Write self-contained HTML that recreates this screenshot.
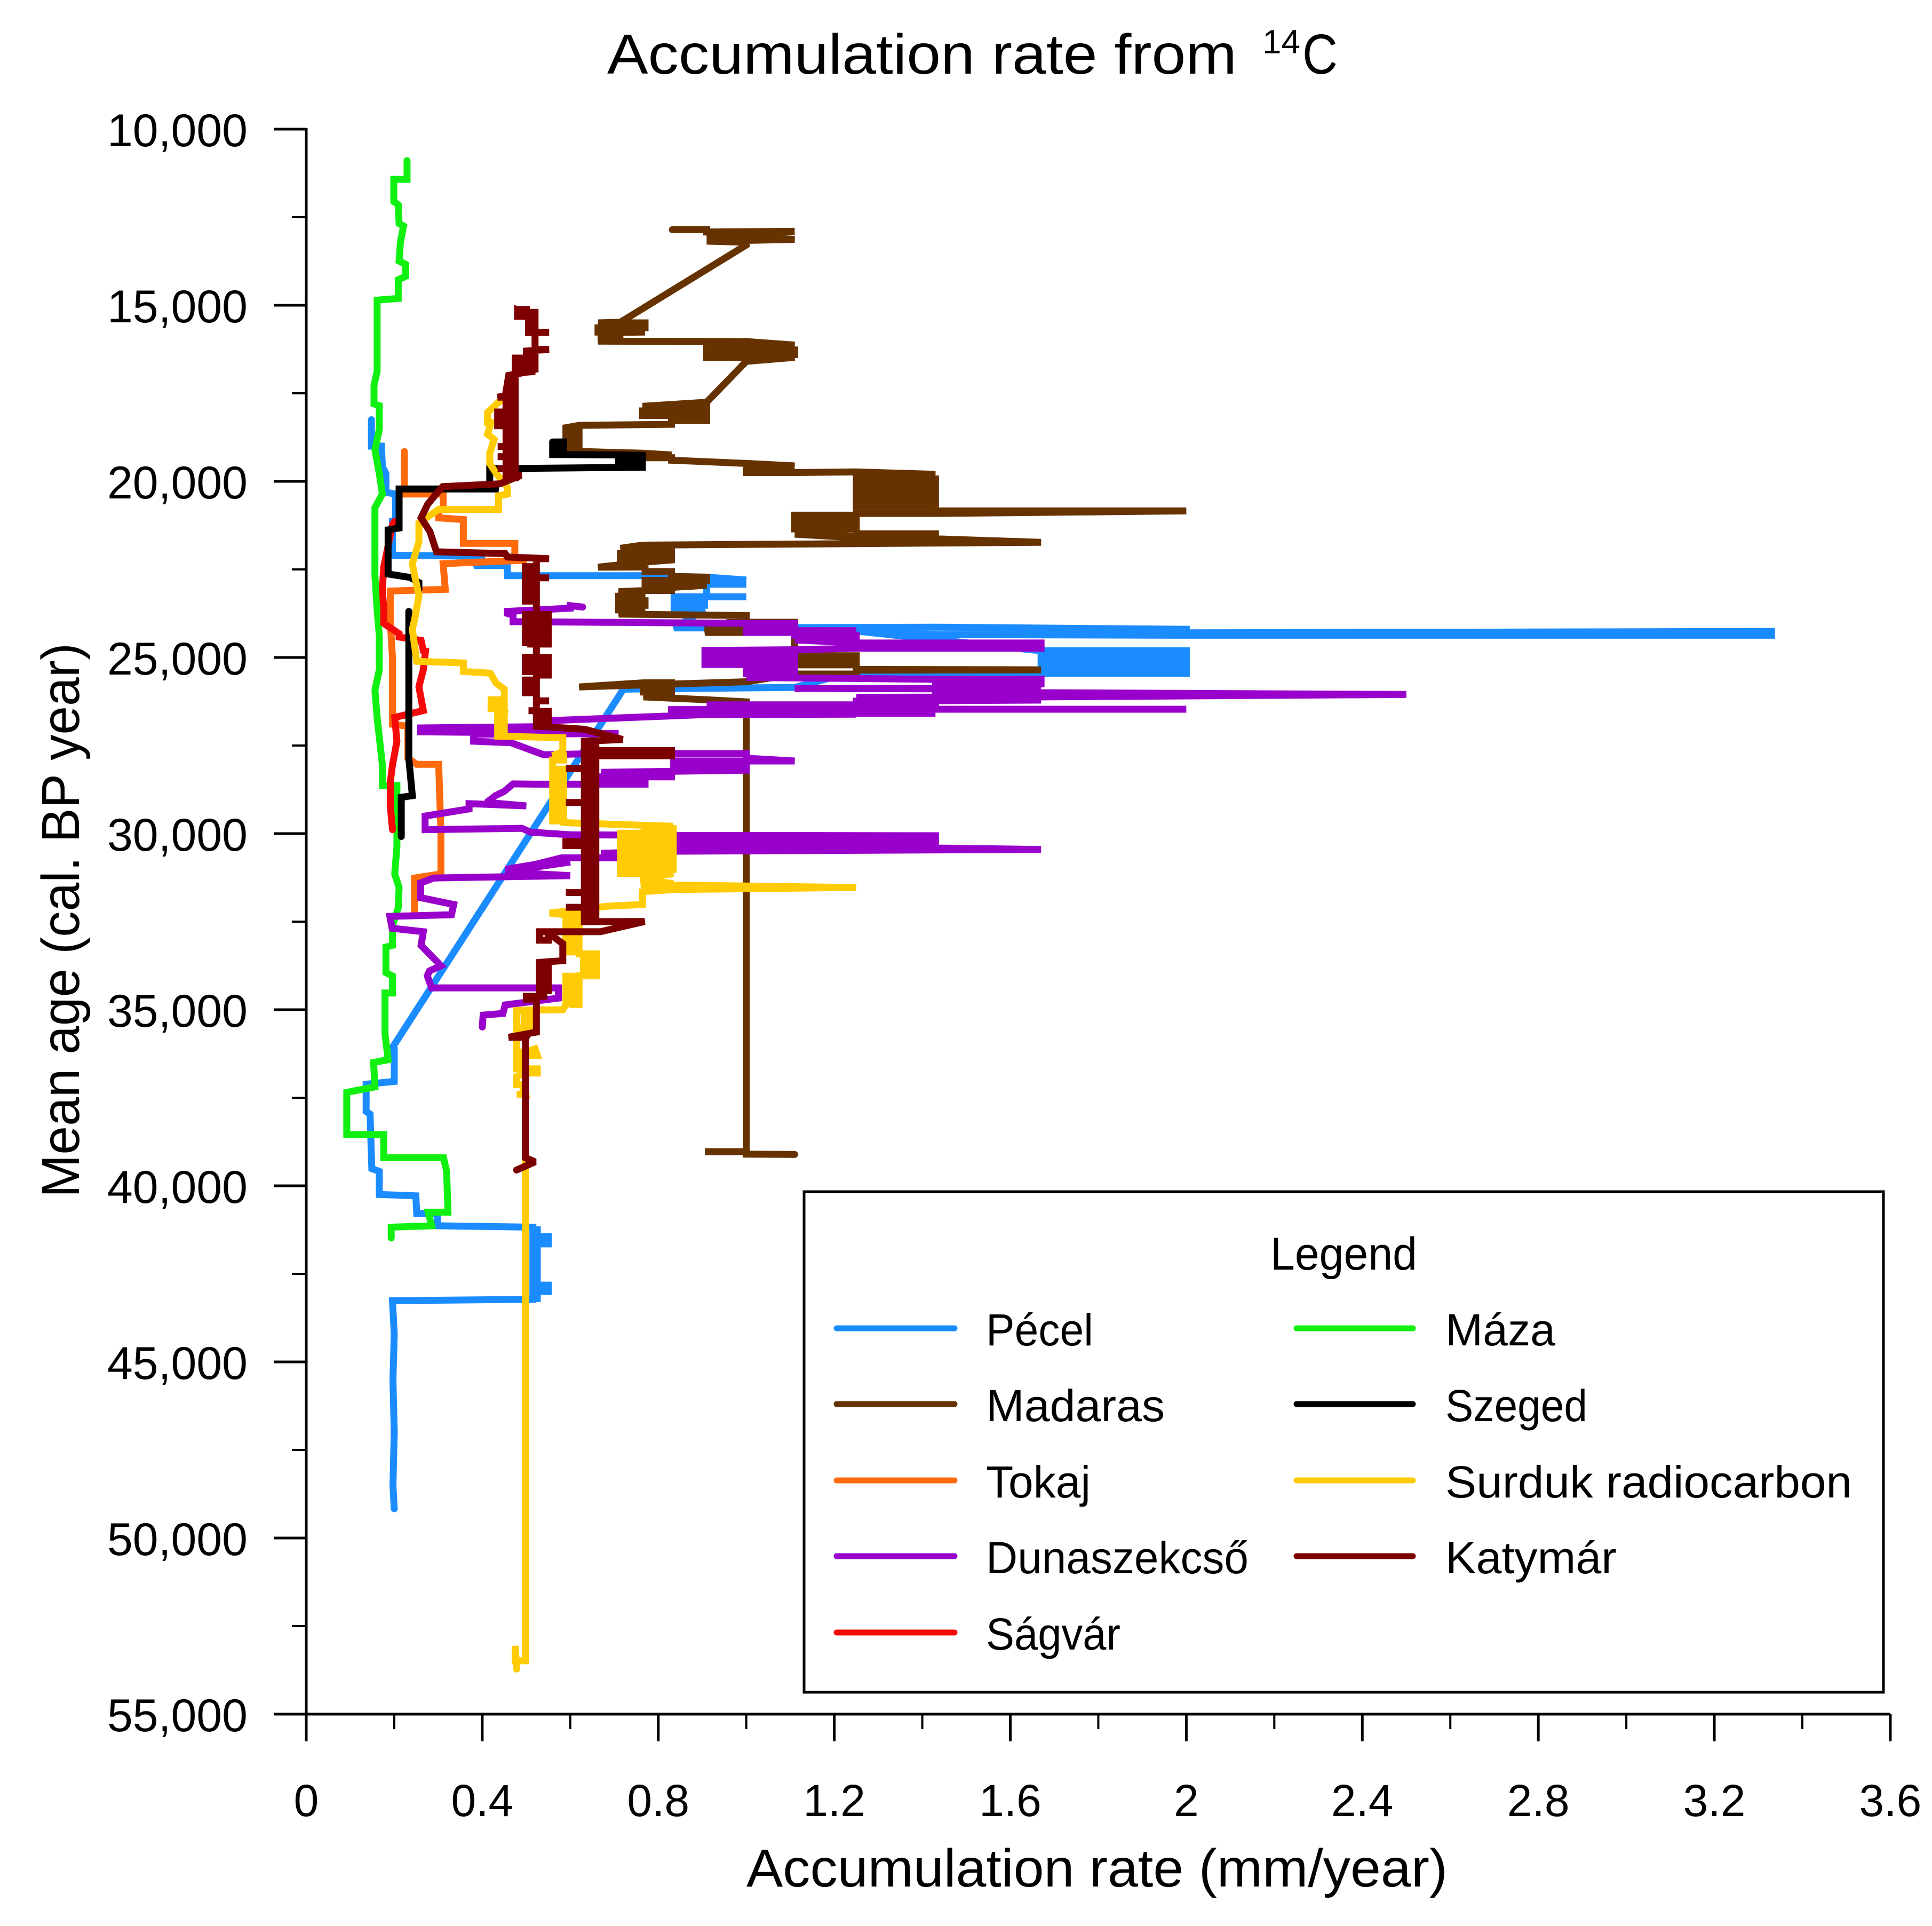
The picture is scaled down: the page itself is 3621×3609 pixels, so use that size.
<!DOCTYPE html>
<html lang="en">
<head>
<meta charset="utf-8">
<title>Accumulation rate from 14C</title>
<style>
html,body{margin:0;padding:0;background:#fff;}
svg{display:block;}
text{font-family:"Liberation Sans",sans-serif;fill:#000;}
</style>
</head>
<body>
<svg id="chart" xmlns="http://www.w3.org/2000/svg" width="3621" height="3609" viewBox="0 0 3621 3609">
<rect x="0" y="0" width="3621" height="3609" fill="#fff"/>
<g id="series"></g>
<g id="axes"></g>
<text x="1138" y="138" font-size="106" textLength="1180" lengthAdjust="spacingAndGlyphs">Accumulation rate from</text>
<text x="2366" y="100" font-size="63" textLength="71" lengthAdjust="spacingAndGlyphs">14</text>
<text x="2441" y="138" font-size="106" textLength="66" lengthAdjust="spacingAndGlyphs">C</text>
<text x="1399" y="3535" font-size="100" textLength="1314" lengthAdjust="spacingAndGlyphs">Accumulation rate (mm/year)</text>
<text transform="translate(148,2244) rotate(-90)" x="0" y="0" font-size="100" textLength="1039" lengthAdjust="spacingAndGlyphs">Mean age (cal. BP year)</text>
<g id="legend">
<rect x="1507" y="2233" width="2023" height="938" fill="#fff" stroke="#000" stroke-width="5"/>
<text x="2381" y="2379" font-size="86" textLength="275" lengthAdjust="spacingAndGlyphs">Legend</text>
</g>
</svg>
<script>
var xTickLabels = ["0","0.4","0.8","1.2","1.6","2","2.4","2.8","3.2","3.6"];
var xTickValues = [0,0.4,0.8,1.2,1.6,2,2.4,2.8,3.2,3.6];
var xMinorValues = [0.2,0.6,1,1.4,1.8,2.2,2.6,3,3.4];
var yTickLabels = ["10,000","15,000","20,000","25,000","30,000","35,000","40,000","45,000","50,000","55,000"];
var yTickValues = [10000,15000,20000,25000,30000,35000,40000,45000,50000,55000];
var yMinorValues = [12500,17500,22500,27500,32500,37500,42500,47500,52500];

/* each series: [accumulation rate mm/yr, mean age yr BP] */
var pecel = [[.148,18250],[.148,19000],[.171,19000],[.173,19588],[.181,19781],[.181,20312],[.203,20361],[.203,21134],[.196,21134],[.196,22000],[.2,22099],[.402,22128],[.382,22390],[.457,22390],[.457,22679],[.764,22679],[.91,22720],[1,22800],[.91,22800],[.91,22920],[1,22920],[.91,22920],[.91,23278],[1,23278],[.836,23278],[.836,23400],[.905,23400],[.905,23520],[.836,23520],[.836,23650],[.905,23650],[.836,24160],[.905,24160],[1.43,24140],[2,24200],[2,24300],[3.33,24260],[3.33,24370],[2,24370],[1.43,24350],[1.25,24250],[1.67,24810],[2,24810],[2,24940],[1.67,24940],[1.67,25070],[2,25070],[2,25200],[1.67,25200],[1.67,25330],[2,25330],[2,25450],[1.67,25450],[1.43,25460],[1.2,25550],[1.11,25850],[.72,25900],[.714,26030],[.196,36072],[.2,36111],[.2,37038],[.136,37116],[.136,37889],[.145,37965],[.147,38739],[.149,39512],[.166,39589],[.166,40246],[.249,40285],[.251,40787],[.298,40787],[.298,41135],[.51,41174],[.515,41174],[.515,43200],[.525,43200],[.525,42820],[.55,42820],[.55,43000],[.535,43000],[.535,42820],[.525,42820],[.525,41650],[.55,41650],[.55,41440],[.535,41440],[.535,41650],[.525,41650],[.525,41250],[.515,41250],[.515,43222],[.196,43261],[.2,44212],[.197,45500],[.2,47000],[.197,48500],[.2,49170]];
var maza = [[.229,10894],[.229,11425],[.199,11425],[.199,12053],[.209,12150],[.211,12680],[.221,12750],[.214,13212],[.211,13744],[.226,13840],[.226,14178],[.209,14275],[.209,14806],[.161,14854],[.161,16883],[.154,17270],[.154,17800],[.166,17850],[.166,18525],[.156,19105],[.166,19781],[.173,20360],[.156,20747],[.156,22679],[.161,23645],[.166,24383],[.166,25349],[.156,25929],[.161,26701],[.173,28054],[.173,28633],[.206,28633],[.206,29213],[.206,30372],[.201,31145],[.211,31531],[.209,32111],[.196,32594],[.196,33174],[.181,33222],[.181,33947],[.196,34043],[.196,34526],[.179,34526],[.179,35685],[.186,36420],[.153,36497],[.156,37193],[.092,37347],[.092,38546],[.176,38546],[.176,39203],[.312,39203],[.319,39589],[.322,40749],[.277,40749],[.285,41135],[.193,41174],[.193,41483]];
var madaras = [[.832,12855],[.91,12855],[.91,12920],[1.11,12900],[.91,12950],[1,12950],[.91,13040],[1,13040],[1.11,13130],[.91,13180],[1,13210],[1,13290],[.714,15482],[.663,15500],[.77,15500],[.77,15640],[.663,15640],[.663,15760],[.77,15760],[.715,15770],[.663,15900],[.72,15900],[.663,16020],[1,16030],[1.11,16130],[.91,16130],[.91,16270],[1.11,16270],[1.11,16400],[.91,16400],[.91,16480],[1.11,16480],[1,16593],[.91,17753],[.764,17870],[.91,17870],[.91,18000],[.764,18000],[.764,18130],[.91,18130],[.91,18270],[.83,18270],[.83,18380],[.62,18410],[.59,18477],[.59,19100],[.605,19100],[.605,18500],[.62,18500],[.62,19150],[.764,19202],[.83,19250],[.77,19330],[.83,19330],[.83,19400],[1,19491],[1.11,19560],[1,19560],[1,19750],[1.11,19750],[1.25,19732],[1.43,19800],[1.25,19800],[1.25,19930],[1.43,19930],[1.43,20060],[1.25,20060],[1.25,20190],[1.43,20190],[1.43,20320],[1.25,20320],[1.25,20450],[1.43,20450],[1.43,20580],[1.25,20580],[1.25,20710],[1.43,20710],[1.43,20840],[2,20840],[1.43,20910],[1.25,20910],[1.25,20960],[1.11,20960],[1.11,21090],[1.25,21090],[1.25,21220],[1.11,21220],[1.11,21350],[1.25,21350],[1.25,21490],[1.43,21490],[1.43,21600],[1.25,21600],[1.11,21500],[1.67,21730],[.764,21810],[.714,21900],[.83,21920],[.83,22050],[.714,22050],[.714,22180],[.83,22180],[.83,22230],[.77,22290],[.663,22437],[.77,22430],[.77,22560],[.83,22560],[.83,22700],[.91,22720],[.91,22810],[.77,22810],[.77,22950],[.91,22950],[.83,23010],[.83,23100],[.77,23100],[.71,23130],[.77,23260],[.71,23260],[.71,23390],[.77,23390],[.77,23520],[.71,23520],[.71,23650],[.77,23650],[.71,23770],[1,23810],[1,23880],[.906,24170],[1,24170],[1,24290],[.906,24290],[1,24000],[1.11,24000],[1.11,24950],[1.25,24950],[1.25,25080],[1.11,25080],[1.11,25210],[1.25,25210],[1.25,25340],[1.67,25350],[1.25,25360],[1.25,25470],[1.11,25470],[1,25690],[.62,25837],[.766,25720],[.83,25720],[.83,25850],[.766,25850],[.766,25980],[.83,25980],[.83,26120],[.766,26120],[.91,26200],[1,26260],[1,39030],[.906,39030],[1,39030],[1,39100],[1.11,39110]];
var tokaj = [[.223,19153],[.223,20168],[.211,20361],[.311,20361],[.311,20795],[.301,20830],[.301,21037],[.357,21085],[.357,21761],[.474,21761],[.474,22148],[.5,22240],[.377,22300],[.311,22340],[.316,23065],[.191,23114],[.191,24000],[.196,25000],[.196,26895],[.231,26950],[.231,27860],[.251,28035],[.301,28035],[.306,30000],[.306,31145],[.246,31262],[.246,32208]];
var dunaszekcso = [[.628,23568],[.6,23530],[.6,23600],[.457,23693],[.457,23750],[.47,23800],[.47,23983],[1,24030],[1.11,24030],[1.11,24150],[1,24150],[1,24290],[1.11,24290],[1.25,24240],[1.11,24240],[1.11,24370],[1.25,24370],[1.25,24500],[1.11,24500],[1.25,24590],[1.67,24590],[1.67,24740],[1.25,24740],[1.11,24780],[.906,24800],[.906,24930],[1.11,24930],[1.11,25060],[.906,25060],[.906,25200],[1.11,25200],[1.11,25330],[1,25330],[1,25450],[1.11,25450],[1.11,25570],[1,25570],[1.11,25580],[1.43,25620],[1.67,25620],[1.67,25750],[1.43,25750],[1.43,25880],[1.67,25880],[1.11,25880],[1.43,25890],[1.43,26000],[1.67,26000],[2.5,26050],[1.67,26120],[1.25,26130],[1.43,26130],[1.67,26210],[1.25,26240],[1.25,26350],[1.43,26350],[1.43,26470],[2,26470],[1.25,26470],[1.25,26590],[1.43,26590],[1.25,26590],[.91,26345],[1.25,26345],[1.25,26470],[.83,26480],[.83,26620],[1.25,26610],[.91,26620],[.56,26790],[.56,26800],[.56,26960],[.26,27000],[.26,27110],[.71,27160],[.38,27180],[.38,27378],[.465,27420],[.54,27764],[.75,27700],[.835,27730],[1,27730],[1,27860],[1.11,27940],[.835,27940],[.835,28060],[1,28060],[1,28200],[.67,28260],[.83,28260],[.83,28390],[.67,28390],[.67,28520],[.77,28520],[.77,28597],[.52,28597],[.47,28590],[.45,28800],[.43,28923],[.41,29116],[.5,29213],[.37,29150],[.37,29300],[.27,29503],[.27,29889],[.49,29850],[.51,29960],[.6,30034],[.83,30050],[1.43,30060],[1.43,30180],[.83,30180],[.83,30310],[1.43,30310],[1.43,30410],[1.67,30450],[.83,30500],[.67,30560],[.77,30690],[.58,30690],[.52,30877],[.46,31000],[.46,31060],[.6,30808],[.46,31020],[.46,31100],[.6,31194],[.29,31260],[.26,31400],[.26,31820],[.335,32014],[.33,32303],[.19,32352],[.195,32690],[.266,32787],[.261,33174],[.306,33753],[.28,33900],[.275,34040],[.285,34381],[.573,34381],[.573,34671],[.452,34864],[.447,35106],[.402,35154],[.4,35492]];
var sagvar = [[.201,21134],[.196,21230],[.176,22437],[.173,23065],[.176,23597],[.176,24031],[.211,24322],[.211,24420],[.261,24515],[.266,24804],[.271,24818],[.266,25349],[.256,25832],[.266,26508],[.201,26701],[.206,27378],[.196,28054],[.191,28537],[.191,29213],[.196,29889]];
var szeged = [[.56,18880],[.56,19240],[.572,19240],[.572,18880],[.585,18880],[.585,19240],[.714,19250],[.764,19260],[.764,19340],[.71,19340],[.71,19470],[.764,19470],[.764,19600],[.462,19636],[.417,19636],[.417,20168],[.437,20216],[.211,20216],[.211,21326],[.186,21375],[.186,22630],[.236,22727],[.256,22870],[.256,23065]];
var szeged2 = [[.233,23693],[.233,27860],[.241,28923],[.216,28971],[.216,30083]];
var surduk = [[.472,17559],[.437,17750],[.412,18043],[.412,18332],[.42,18332],[.412,18660],[.427,18810],[.417,19200],[.417,19491],[.432,19781],[.457,20168],[.457,20361],[.437,20410],[.437,20795],[.301,20795],[.256,21182],[.256,21713],[.241,22341],[.256,23259],[.246,23935],[.241,24200],[.251,25107],[.357,25156],[.357,25397],[.418,25446],[.432,25735],[.45,25900],[.45,26450],[.42,26450],[.42,26200],[.435,26200],[.435,26500],[.45,26500],[.45,27233],[.435,27233],[.435,26600],[.45,26600],[.437,27233],[.583,27281],[.583,27670],[.56,27790],[.585,27790],[.585,27910],[.56,27910],[.56,28170],[.56,29640],[.572,29640],[.572,28170],[.585,28170],[.585,29680],[.6,29696],[.834,29793],[.76,29860],[.834,29860],[.834,29990],[.714,29990],[.714,30120],[.834,30120],[.834,30250],[.714,30250],[.714,30380],[.834,30380],[.834,30510],[.714,30510],[.714,30640],[.834,30640],[.834,30770],[.714,30770],[.714,30900],[.834,30900],[.834,31020],[.714,31020],[.714,31130],[.834,31130],[.76,31310],[.834,31420],[.76,31450],[1.25,31531],[.834,31590],[.764,31650],[.764,32014],[.683,32063],[.553,32256],[.59,32304],[.59,33360],[.605,33360],[.605,32304],[.62,32304],[.62,33415],[.63,33415],[.63,34040],[.645,34040],[.645,33415],[.66,33415],[.66,34040],[.62,34040],[.62,34850],[.605,34850],[.605,34050],[.59,34050],[.59,34860],[.583,35000],[.51,35009],[.478,35020],[.478,35520],[.495,35520],[.495,35020],[.51,35020],[.51,35520],[.478,35550],[.478,36200],[.478,36680],[.49,36680],[.49,36200],[.498,36200],[.52,36110],[.525,36300],[.498,36300],[.498,36680],[.525,36680],[.525,36800],[.498,36800],[.478,36900],[.478,37130],[.49,37130],[.498,37400],[.478,37400],[.498,37400],[.498,53485],[.475,53485],[.475,53060],[.478,53720]];
var katymar = [[.48,15120],[.5,15120],[.5,15310],[.48,15310],[.48,15120],[.505,15200],[.52,15200],[.52,15772],[.552,15772],[.505,15772],[.505,15300],[.52,15400],[.52,16255],[.552,16255],[.5,16300],[.5,16810],[.52,16810],[.52,16300],[.51,16300],[.51,16810],[.475,16780],[.475,16500],[.49,16500],[.49,16780],[.52,16880],[.5,16900],[.46,16990],[.454,17450],[.475,17450],[.475,16990],[.465,17000],[.465,17540],[.435,17610],[.475,17610],[.475,19900],[.465,19900],[.465,17700],[.454,17700],[.454,18030],[.435,18030],[.435,18420],[.445,18420],[.445,18030],[.454,18030],[.454,19010],[.435,19010],[.454,19010],[.454,19300],[.435,19300],[.454,19300],[.454,19640],[.435,19640],[.454,19640],[.454,19820],[.477,19800],[.488,19830],[.44,20070],[.31,20150],[.295,20360],[.276,20650],[.261,21037],[.281,21423],[.296,22000],[.452,22050],[.457,22148],[.552,22196],[.523,22196],[.523,26950],[.536,26950],[.536,26530],[.55,26530],[.55,26950],[.523,26950],[.523,26510],[.505,26510],[.523,26510],[.523,26230],[.552,26230],[.523,26230],[.523,26000],[.51,26000],[.51,25640],[.498,25640],[.498,26000],[.523,26000],[.523,25500],[.536,25500],[.536,25000],[.55,25000],[.55,25500],[.523,25500],[.523,25400],[.51,25400],[.51,25000],[.498,25000],[.498,25400],[.523,25400],[.523,24620],[.51,24620],[.51,23780],[.498,23780],[.498,24580],[.523,24620],[.536,24620],[.536,23780],[.55,23780],[.55,24620],[.523,24620],[.523,23400],[.51,23400],[.51,22420],[.498,22420],[.498,23400],[.523,23400],[.523,22740],[.552,22740],[.523,22740],[.523,26950],[.633,27040],[.719,27329],[.632,27378],[.632,32500],[.645,32500],[.645,27450],[.658,27450],[.658,32500],[.658,27640],[.83,27640],[.83,27790],[.658,27790],[.64,27790],[.64,28150],[.59,28150],[.64,28150],[.64,29116],[.59,29116],[.64,29116],[.64,30227],[.59,30227],[.59,30340],[.64,30340],[.64,31676],[.59,31676],[.64,31676],[.64,32092],[.59,32092],[.64,32092],[.64,32500],[.769,32497],[.668,32787],[.53,32787],[.53,33028],[.55,33028],[.55,32820],[.583,33125],[.583,33608],[.53,33657],[.53,34450],[.55,34450],[.55,33720],[.54,33720],[.54,34620],[.5,34620],[.5,34700],[.523,34700],[.523,35637],[.46,35782],[.5,35780],[.498,35850],[.498,39203],[.52,39319],[.478,39551]];

var seriesOrder = ["Pécel","Máza","Madaras","Tokaj","Dunaszekcső","Ságvár","Szeged","Surduk radiocarbon","Katymár"];
var seriesColors = {"Pécel":"#1a8cff","Máza":"#11f011","Madaras":"#663300","Tokaj":"#ff6a0d","Dunaszekcső":"#9900cc","Ságvár":"#f50a0a","Szeged":"#000000","Surduk radiocarbon":"#ffcb05","Katymár":"#7d0000"};
var seriesPoints = {"Pécel":[pecel],"Máza":[maza],"Madaras":[madaras],"Tokaj":[tokaj],"Dunaszekcső":[dunaszekcso],"Ságvár":[sagvar],"Szeged":[szeged,szeged2],"Surduk radiocarbon":[surduk],"Katymár":[katymar]};
var legendLeft = ["Pécel","Madaras","Tokaj","Dunaszekcső","Ságvár"];
var legendRight = ["Máza","Szeged","Surduk radiocarbon","Katymár"];

var NS = "http://www.w3.org/2000/svg";
function xScale(v){ return 574 + v * 824.7; }
function yScale(v){ return 242 + (v - 10000) * 0.066; }
function make(tag, attrs, parent, txt){
  var e = document.createElementNS(NS, tag);
  for (var k in attrs) e.setAttribute(k, attrs[k]);
  if (txt !== undefined) e.textContent = txt;
  parent.appendChild(e);
  return e;
}
function slug(s){
  return s.toLowerCase().normalize("NFD").replace(/[^a-z ]/g, "").replace(/ /g, "-");
}

var seriesLayer = document.getElementById("series");
seriesOrder.forEach(function(name){
  seriesPoints[name].forEach(function(pts, i){
    var d = pts.map(function(p){ return xScale(p[0]).toFixed(1) + "," + yScale(p[1]).toFixed(1); }).join(" ");
    var line = make("polyline", {points: d, fill: "none", stroke: seriesColors[name], "stroke-width": 13, "stroke-linejoin": "miter", "stroke-miterlimit": 2, "stroke-linecap": "round"}, seriesLayer);
    
    
  });
});

var axes = document.getElementById("axes");
var xAxisLine = make("line", {x1: 513, x2: xScale(3.6), y1: yScale(55000), y2: yScale(55000), stroke: "#000", "stroke-width": 5}, axes);


var yAxisLine = make("line", {x1: xScale(0), x2: xScale(0), y1: yScale(10000) - 2, y2: 3263, stroke: "#000", "stroke-width": 5}, axes);



xTickValues.forEach(function(v, i){
  var t = make("line", {x1: xScale(v), x2: xScale(v), y1: yScale(55000), y2: 3263, stroke: "#000", "stroke-width": 5}, axes);
  
  
  var l = make("text", {x: xScale(v), y: 3403, "font-size": 84, "text-anchor": "middle"}, axes, xTickLabels[i]);
  
  
});
xMinorValues.forEach(function(v){
  var t = make("line", {x1: xScale(v), x2: xScale(v), y1: yScale(55000), y2: 3240, stroke: "#000", "stroke-width": 4}, axes);
  
  
});
yTickValues.forEach(function(v, i){
  var t = make("line", {x1: 513, x2: xScale(0), y1: yScale(v), y2: yScale(v), stroke: "#000", "stroke-width": 5}, axes);
  
  
  var l = make("text", {x: 464, y: yScale(v) + 32, "font-size": 86, "text-anchor": "end"}, axes, yTickLabels[i]);
  
  
});
yMinorValues.forEach(function(v){
  var t = make("line", {x1: 547, x2: xScale(0), y1: yScale(v), y2: yScale(v), stroke: "#000", "stroke-width": 4}, axes);
  
  
});

var legend = document.getElementById("legend");
var rowY = [2489,2631,2774,2916,3059];
var textLens = {"Pécel":201,"Madaras":335,"Tokaj":196,"Dunaszekcső":492,"Ságvár":252,"Máza":206,"Szeged":266,"Surduk radiocarbon":762,"Katymár":321};
function legendEntry(name, row, x1, x2, tx){
  var s = make("line", {x1: x1 + 6, x2: x2 - 6, y1: rowY[row], y2: rowY[row], stroke: seriesColors[name], "stroke-width": 11, "stroke-linecap": "round"}, legend);
  
  
  var t = make("text", {x: tx, y: rowY[row] + 32, "font-size": 84, textLength: textLens[name], lengthAdjust: "spacingAndGlyphs"}, legend, name);
  
  
}
legendLeft.forEach(function(n, i){ legendEntry(n, i, 1562, 1795, 1848); });
legendRight.forEach(function(n, i){ legendEntry(n, i, 2424, 2654, 2709); });
</script>
</body>
</html>
